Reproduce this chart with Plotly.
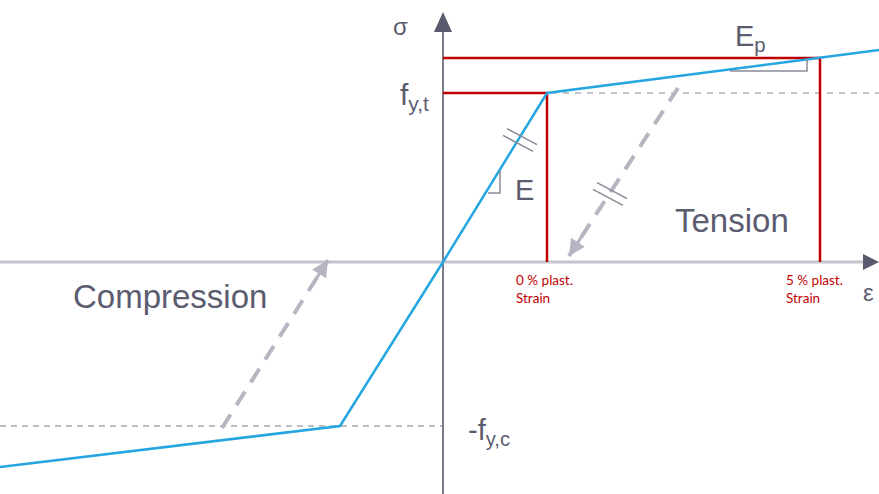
import plotly.graph_objects as go

# Schematic stress-strain law (units: pixels from the origin, sigma up)
curve_eps = [-443, -103, 0, 104, 436]
curve_sig = [-205, -164, 0, 169, 212]

fy_t = 169
fy_c = -164
eps_0 = 104          # 0 % plastic strain
eps_5 = 377          # 5 % plastic strain
sig_5 = 204

unload_t_eps = [235, 126]
unload_t_sig = [174, 6]
unload_c_eps = [-221, -115]
unload_c_sig = [-166, 2]

x_min, x_max = -443, 436
y_min, y_max = -232, 262

GRAY_TXT = '#5c5c70'
RED = '#c00000'
BLUE = '#25a6e0'
DASH_GRAY = '#b6b6c2'

fig = go.Figure()


def line(xs, ys, color, width, dash='solid'):
    fig.add_trace(go.Scatter(x=xs, y=ys, mode='lines', hoverinfo='skip',
                             line=dict(color=color, width=width, dash=dash)))


# dotted yield levels
line([0, x_max], [fy_t, fy_t], '#c4c4cc', 2, '6px,6px')
line([x_min, 0], [fy_c, fy_c], '#a8a8b4', 1.5, '6px,5px')

# axes
line([x_min, 420], [0, 0], '#c4c4cc', 3)
line([0, 0], [y_min, 232], '#7a7a8a', 2)
fig.add_trace(go.Scatter(x=[420, x_max, 420, 420], y=[8, 0, -8, 8], mode='lines',
                         fill='toself', fillcolor='#5a5a6e', line=dict(width=0),
                         hoverinfo='skip'))
fig.add_trace(go.Scatter(x=[-9, 0, 9, -9], y=[230, 250, 230, 230], mode='lines',
                         fill='toself', fillcolor='#5a5a6e', line=dict(width=0),
                         hoverinfo='skip'))

# unloading paths
line(unload_t_eps, unload_t_sig, DASH_GRAY, 4, '16px,11px')
line(unload_c_eps, unload_c_sig, DASH_GRAY, 4, '16px,11px')
for ex, ey in [(unload_t_eps, unload_t_sig), (unload_c_eps, unload_c_sig)]:
    dx, dy = ex[1] - ex[0], ey[1] - ey[0]
    fig.add_annotation(x=ex[1], y=ey[1], ax=ex[1] - dx * 0.12, ay=ey[1] - dy * 0.12,
                       xref='x', yref='y', axref='x', ayref='y', text='',
                       showarrow=True, arrowhead=2, arrowsize=1.1, arrowwidth=3,
                       arrowcolor=DASH_GRAY)

# red reference lines
line([0, eps_0, eps_0], [fy_t, fy_t, 0], RED, 2.5)
line([0, eps_5, eps_5], [sig_5, sig_5, 0], RED, 2.5)

# material curve
line(curve_eps, curve_sig, BLUE, 2.5)

# slope triangles
line([45, 57, 57], [69, 69, 91], '#8a8a98', 1.5)
line([287, 364, 364], [191, 191, 203], '#8a8a98', 1.5)

# double tick marks
for cx, cy in [(77, 122), (167, 68)]:
    for o in (-4, 4):
        line([cx - 15 + o * 0.5, cx + 15 + o * 0.5], [cy + 8 + o * 0.85, cy - 8 + o * 0.85],
             '#8a8a98', 1.5)

# labels
txt = dict(family='Liberation Sans, Arial, sans-serif', color=GRAY_TXT)
red_txt = dict(family='Lato, Noto Sans, sans-serif', color=RED, size=13.5)
labels = [
    ('σ', -43, 236, 24, 'center'),
    ('f<sub>y,t</sub>', -12, 166, 30, 'right'),
    ('E', 81, 72, 29, 'center'),
    ('E<sub>p</sub>', 307, 224, 29, 'center'),
    ('Tension', 289, 42, 33, 'center'),
    ('Compression', -273, -34, 33, 'center'),
    ('-f<sub>y,c</sub>', 23, -170, 29, 'left'),
    ('ε', 425, -30, 24, 'center'),
]
for t, x, y, s, xa in labels:
    fig.add_annotation(x=x, y=y, text=t, showarrow=False, xanchor=xa, yanchor='middle',
                       font=dict(size=s, **txt))
for x in (eps_0 - 33, eps_5 - 36):
    pct = '0' if x < 200 else '5'
    fig.add_annotation(x=x, y=-8, text=pct + ' % plast.<br>Strain', showarrow=False,
                       xanchor='left', yanchor='top', align='left', font=red_txt)

fig.update_layout(
    width=879, height=494,
    margin=dict(l=0, r=0, t=0, b=0),
    paper_bgcolor='white', plot_bgcolor='white',
    showlegend=False,
    xaxis=dict(range=[x_min, x_max], visible=False, fixedrange=True),
    yaxis=dict(range=[y_min, y_max], visible=False, fixedrange=True),
)

fig.write_html('out.html', config={'displayModeBar': False},
               post_script="document.body.style.margin='0';")
